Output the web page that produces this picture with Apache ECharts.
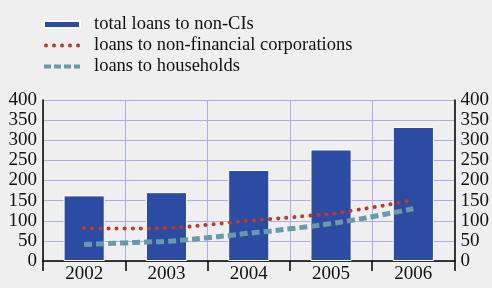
<!DOCTYPE html>
<html>
<head>
<meta charset="utf-8">
<script src="https://cdn.jsdelivr.net/npm/echarts@6/dist/echarts.min.js"></script>
<style>
  html, body { margin: 0; padding: 0; background: #efefef; }
  #chart { width: 492px; height: 288px; }
</style>
</head>
<body>
<div id="chart"></div>
<script>
  var years = ['2002', '2003', '2004', '2005', '2006'];
  var totalLoans = [163, 171, 226, 277, 333];

  // quarterly points, 2002.0 .. 2006.0
  var quarters = [2002, 2002.25, 2002.5, 2002.75, 2003, 2003.25, 2003.5, 2003.75,
    2004, 2004.25, 2004.5, 2004.75, 2005, 2005.25, 2005.5, 2005.75, 2006];
  var corpLoans = [82, 81, 81, 81, 82, 85, 90, 95, 100, 104, 108, 113, 117, 125, 133, 142, 152];
  var houseLoans = [41, 43, 45, 47, 49, 53, 58, 63, 69, 74, 80, 86, 93, 101, 110, 120, 130];

  var font = 'Liberation Serif';

  function pairs(xs, ys) {
    return xs.map(function (x, i) { return [x, ys[i]] })
  }

  // legend icons, drawn as paths
  var dotIcon = 'path://';
  [2, 10, 18, 26, 34].forEach(function (cx) {
    dotIcon += 'M' + (cx - 2) + ',2 a2,2 0 1,0 4,0 a2,2 0 1,0 -4,0 Z ';
  });
  var dashIcon = 'path://M0,0 L7,0 L7,4 L0,4 Z M10,0 L17,0 L17,4 L10,4 Z M20,0 L27,0 L27,4 L20,4 Z M30,0 L36,0 L36,4 L30,4 Z';
  var barIcon = 'path://M0,0 L36,0 L36,7 L0,7 Z';

  var chart = echarts.init(document.getElementById('chart'))
  var yAxisBase = {
    type: 'value',
    min: 0,
    max: 400,
    interval: 50,
    axisLine: { show: true, lineStyle: { color: '#000', width: 1.5 } },
    axisTick: { show: false },
    splitLine: { show: true, lineStyle: { color: '#a9aee6', width: 1 } },
    axisLabel: { color: '#111', fontFamily: font, fontSize: 19, margin: 6 }
  }

  chart.setOption({
    backgroundColor: '#efefef',
    animation: false,
    legend: {
      left: 43,
      top: 15,
      padding: 0,
      orient: 'vertical',
      itemGap: 2,
      itemWidth: 36,
      itemHeight: 7,
      symbolKeepAspect: true,
      textStyle: { fontFamily: font, fontSize: 18.5, color: '#111', padding: [0, 0, 0, 9] },
      data: [
        { name: 'total loans to non-CIs', icon: barIcon },
        { name: 'loans to non-financial corporations', icon: dotIcon },
        { name: 'loans to households', icon: dashIcon }
      ]
    },
    grid: { left: 43, right: 37, top: 100, bottom: 27 },
    xAxis: [
      {
        type: 'category',
        data: years,
        axisLine: { show: true, lineStyle: { color: '#000', width: 1.5 } },
        axisTick: { show: true, inside: false, length: 10, lineStyle: { color: '#000', width: 1.5 } },
        splitLine: { show: true, lineStyle: { color: '#a9aee6', width: 1 } },
        axisLabel: { color: '#111', fontFamily: font, fontSize: 19, margin: 4 }
      },
      {
        type: 'value',
        min: 2001.5,
        max: 2006.5,
        show: false
      }
    ],
    yAxis: [
      Object.assign({}, yAxisBase, { position: 'left' }),
      Object.assign({}, yAxisBase, { position: 'right', splitLine: { show: false } })
    ],
    series: [
      {
        name: 'total loans to non-CIs',
        type: 'bar',
        data: totalLoans,
        barWidth: '50%',
        color: '#2c4ba3',
        itemStyle: { color: '#2c4ba3', borderColor: '#ffffff', borderWidth: 1 }
      },
      {
        name: 'loans to non-financial corporations',
        type: 'line',
        xAxisIndex: 1,
        data: pairs(quarters, corpLoans),
        smooth: true,
        symbol: 'none',
        color: '#c0392b',
        lineStyle: { color: '#c0392b', width: 4, type: [0.1, 8], cap: 'round' }
      },
      {
        name: 'loans to households',
        type: 'line',
        xAxisIndex: 1,
        data: pairs(quarters, houseLoans),
        smooth: true,
        symbol: 'none',
        color: '#6a9aaa',
        lineStyle: { color: '#6a9aaa', width: 5, type: [8, 4] }
      }
    ]
  })
</script>
</body>
</html>
